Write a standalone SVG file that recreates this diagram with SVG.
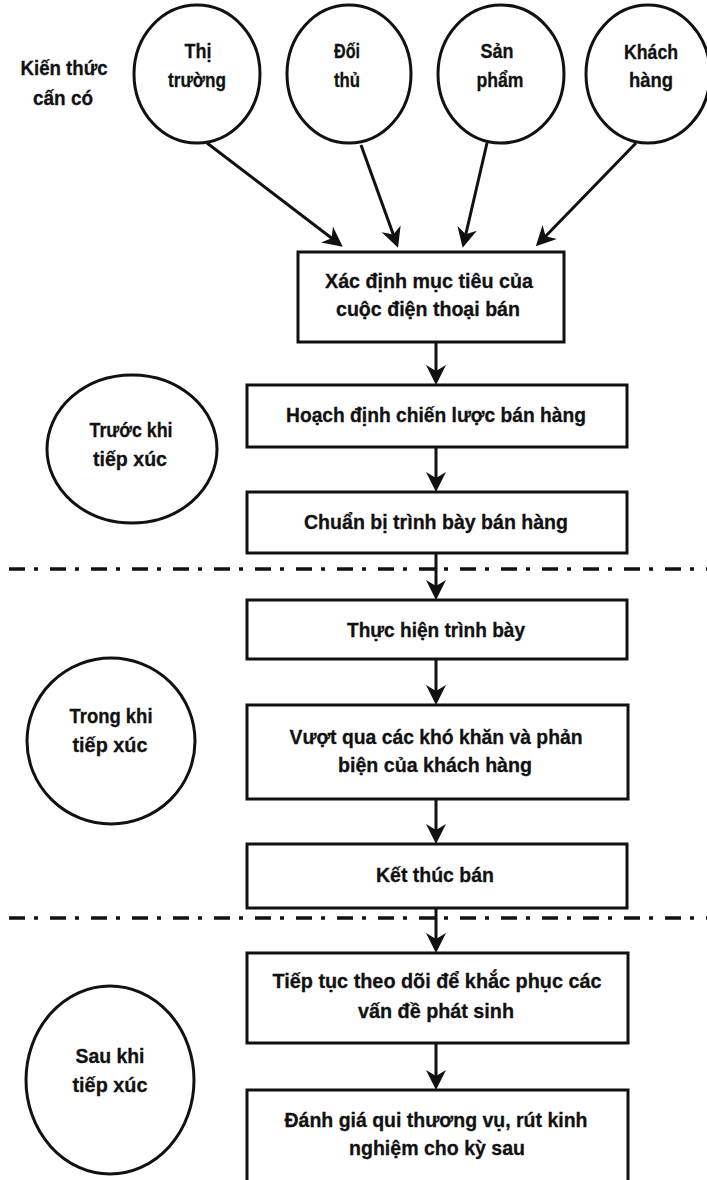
<svg xmlns="http://www.w3.org/2000/svg" width="707" height="1180" viewBox="0 0 707 1180">
  <style>
    .shape { fill: #ffffff; stroke: #111111; stroke-width: 3; }
    .edge { fill: none; stroke: #111111; stroke-width: 3; }
    .sep { fill: none; stroke: #111111; stroke-width: 3.5; stroke-dasharray: 16 9 4 12; }
    text { font-family: "Liberation Sans", Arial, sans-serif; font-weight: bold; font-size: 20.5px; fill: #111111; stroke: #111111; stroke-width: 0.3; text-anchor: middle; }
  </style>
  <defs>
    <marker id="head" viewBox="0 0 20 20" refX="14" refY="10" markerWidth="20" markerHeight="20" markerUnits="userSpaceOnUse" orient="auto">
      <path d="M0,0 L20,10 L0,20 L6,10 z" fill="#111111"/>
    </marker>
  </defs>

  <rect x="0" y="0" width="707" height="1180" fill="#ffffff"/>

  <!-- phase separators -->
  <g id="separators">
    <line class="sep" x1="9" y1="569" x2="707" y2="569"/>
    <line class="sep" x1="9" y1="918" x2="707" y2="918"/>
  </g>

  <!-- connectors -->
  <g id="connectors">
    <line class="edge" x1="207" y1="143" x2="338" y2="243" marker-end="url(#head)"/>
    <line class="edge" x1="361" y1="145" x2="396" y2="242" marker-end="url(#head)"/>
    <line class="edge" x1="487" y1="143" x2="464" y2="242" marker-end="url(#head)"/>
    <line class="edge" x1="636" y1="143" x2="540" y2="242" marker-end="url(#head)"/>
    <line class="edge" x1="436" y1="342" x2="436" y2="379" marker-end="url(#head)"/>
    <line class="edge" x1="436" y1="447" x2="436" y2="486" marker-end="url(#head)"/>
    <line class="edge" x1="436" y1="553" x2="436" y2="594" marker-end="url(#head)"/>
    <line class="edge" x1="436" y1="659" x2="436" y2="699" marker-end="url(#head)"/>
    <line class="edge" x1="436" y1="799" x2="436" y2="838" marker-end="url(#head)"/>
    <line class="edge" x1="436" y1="908" x2="436" y2="947" marker-end="url(#head)"/>
    <line class="edge" x1="436" y1="1043" x2="436" y2="1084" marker-end="url(#head)"/>
  </g>

  <!-- heading -->
  <g id="label-kien-thuc">
    <text x="64" y="75" textLength="87" lengthAdjust="spacingAndGlyphs">Kiến thức</text>
    <text x="63" y="105" textLength="60" lengthAdjust="spacingAndGlyphs">cấn có</text>
  </g>

  <!-- knowledge circles -->
  <g id="thi-truong">
    <ellipse class="shape" cx="197" cy="74" rx="63" ry="69"/>
    <text x="198" y="58" textLength="27" lengthAdjust="spacingAndGlyphs">Thị</text>
    <text x="197" y="87" textLength="58" lengthAdjust="spacingAndGlyphs">trường</text>
  </g>
  <g id="doi-thu">
    <ellipse class="shape" cx="349" cy="74" rx="62" ry="69"/>
    <text x="347" y="58" textLength="26" lengthAdjust="spacingAndGlyphs">Đối</text>
    <text x="347" y="87" textLength="26" lengthAdjust="spacingAndGlyphs">thủ</text>
  </g>
  <g id="san-pham">
    <ellipse class="shape" cx="501" cy="74" rx="63" ry="69"/>
    <text x="497" y="58" textLength="33" lengthAdjust="spacingAndGlyphs">Sản</text>
    <text x="500" y="87" textLength="47" lengthAdjust="spacingAndGlyphs">phẩm</text>
  </g>
  <g id="khach-hang">
    <ellipse class="shape" cx="648" cy="74" rx="62" ry="69"/>
    <text x="651" y="59" textLength="54" lengthAdjust="spacingAndGlyphs">Khách</text>
    <text x="651" y="87" textLength="44" lengthAdjust="spacingAndGlyphs">hàng</text>
  </g>

  <!-- phase circles -->
  <g id="truoc-khi">
    <ellipse class="shape" cx="132" cy="449" rx="85" ry="74"/>
    <text x="131" y="437" textLength="83" lengthAdjust="spacingAndGlyphs">Trước khi</text>
    <text x="130" y="466" textLength="74" lengthAdjust="spacingAndGlyphs">tiếp xúc</text>
  </g>
  <g id="trong-khi">
    <ellipse class="shape" cx="111" cy="741" rx="84" ry="83"/>
    <text x="111" y="723" textLength="83" lengthAdjust="spacingAndGlyphs">Trong khi</text>
    <text x="110" y="752" textLength="75" lengthAdjust="spacingAndGlyphs">tiếp xúc</text>
  </g>
  <g id="sau-khi">
    <ellipse class="shape" cx="110" cy="1080" rx="84" ry="94"/>
    <text x="110" y="1063" textLength="69" lengthAdjust="spacingAndGlyphs">Sau khi</text>
    <text x="110" y="1092" textLength="75" lengthAdjust="spacingAndGlyphs">tiếp xúc</text>
  </g>

  <!-- process steps -->
  <g id="xac-dinh-muc-tieu">
    <rect class="shape" x="298" y="252" width="266" height="90"/>
    <text x="429" y="288" textLength="208" lengthAdjust="spacingAndGlyphs">Xác định mục tiêu của</text>
    <text x="428" y="316" textLength="184" lengthAdjust="spacingAndGlyphs">cuộc điện thoại bán</text>
  </g>
  <g id="hoach-dinh">
    <rect class="shape" x="247" y="385" width="380" height="62"/>
    <text x="436" y="422" textLength="300" lengthAdjust="spacingAndGlyphs">Hoạch định chiến lược bán hàng</text>
  </g>
  <g id="chuan-bi">
    <rect class="shape" x="247" y="492" width="380" height="61"/>
    <text x="436" y="529" textLength="264" lengthAdjust="spacingAndGlyphs">Chuẩn bị trình bày bán hàng</text>
  </g>
  <g id="thuc-hien">
    <rect class="shape" x="247" y="600" width="380" height="59"/>
    <text x="436" y="637" textLength="178" lengthAdjust="spacingAndGlyphs">Thực hiện trình bày</text>
  </g>
  <g id="vuot-qua">
    <rect class="shape" x="247" y="705" width="381" height="94"/>
    <text x="436" y="744" textLength="293" lengthAdjust="spacingAndGlyphs">Vượt qua các khó khăn và phản</text>
    <text x="435" y="772" textLength="194" lengthAdjust="spacingAndGlyphs">biện của khách hàng</text>
  </g>
  <g id="ket-thuc">
    <rect class="shape" x="247" y="844" width="380" height="64"/>
    <text x="435" y="882" textLength="118" lengthAdjust="spacingAndGlyphs">Kết thúc bán</text>
  </g>
  <g id="tiep-tuc">
    <rect class="shape" x="247" y="953" width="381" height="90"/>
    <text x="437" y="988" textLength="329" lengthAdjust="spacingAndGlyphs">Tiếp tục theo dõi để khắc phục các</text>
    <text x="436" y="1018" textLength="156" lengthAdjust="spacingAndGlyphs">vấn đề phát sinh</text>
  </g>
  <g id="danh-gia">
    <rect class="shape" x="247" y="1090" width="381" height="110"/>
    <text x="436" y="1127" textLength="303" lengthAdjust="spacingAndGlyphs">Đánh giá qui thương vụ, rút kinh</text>
    <text x="437" y="1155" textLength="176" lengthAdjust="spacingAndGlyphs">nghiệm cho kỳ sau</text>
  </g>
</svg>
